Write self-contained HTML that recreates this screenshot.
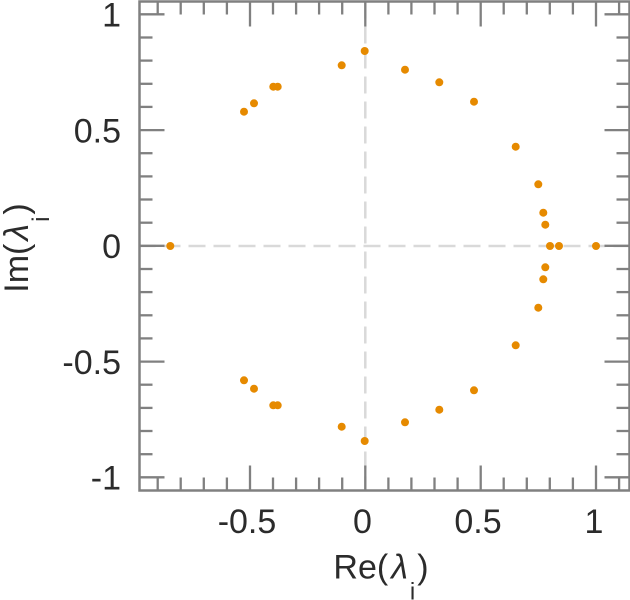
<!DOCTYPE html>
<html><head><meta charset="utf-8"><style>
html,body{margin:0;padding:0;background:#fff;}
svg{display:block;}
text{font-family:"Liberation Sans",Arial,sans-serif;fill:#2b2b2b;}
</style></head><body>
<svg width="630" height="600" viewBox="0 0 630 600" xmlns="http://www.w3.org/2000/svg">
<rect x="0" y="0" width="630" height="600" fill="#fff"/>
<!-- zero dashed lines -->
<line x1="365.3" y1="1.5" x2="365.3" y2="490.5" stroke="#d9d9d9" stroke-width="2.5" stroke-dasharray="17 8"/>
<line x1="139.5" y1="246" x2="629.5" y2="246" stroke="#d9d9d9" stroke-width="2.5" stroke-dasharray="17 8" stroke-dashoffset="1"/>
<!-- frame -->
<rect x="139.5" y="1.5" width="490" height="489" fill="none" stroke="#808080" stroke-width="2.5"/>
<g stroke="#808080" stroke-width="2.3">
<!-- x ticks bottom & top -->
<line x1="157.7" y1="490.5" x2="157.7" y2="477.5"/><line x1="157.7" y1="1.5" x2="157.7" y2="14.5"/>
<line x1="180.7" y1="490.5" x2="180.7" y2="477.5"/><line x1="180.7" y1="1.5" x2="180.7" y2="14.5"/>
<line x1="203.8" y1="490.5" x2="203.8" y2="477.5"/><line x1="203.8" y1="1.5" x2="203.8" y2="14.5"/>
<line x1="226.9" y1="490.5" x2="226.9" y2="477.5"/><line x1="226.9" y1="1.5" x2="226.9" y2="14.5"/>
<line x1="250" y1="490.5" x2="250" y2="465.5"/><line x1="250" y1="1.5" x2="250" y2="26.5"/>
<line x1="273.0" y1="490.5" x2="273.0" y2="477.5"/><line x1="273.0" y1="1.5" x2="273.0" y2="14.5"/>
<line x1="296.1" y1="490.5" x2="296.1" y2="477.5"/><line x1="296.1" y1="1.5" x2="296.1" y2="14.5"/>
<line x1="319.1" y1="490.5" x2="319.1" y2="477.5"/><line x1="319.1" y1="1.5" x2="319.1" y2="14.5"/>
<line x1="342.2" y1="490.5" x2="342.2" y2="477.5"/><line x1="342.2" y1="1.5" x2="342.2" y2="14.5"/>
<line x1="365.3" y1="490.5" x2="365.3" y2="465.5"/><line x1="365.3" y1="1.5" x2="365.3" y2="26.5"/>
<line x1="388.4" y1="490.5" x2="388.4" y2="477.5"/><line x1="388.4" y1="1.5" x2="388.4" y2="14.5"/>
<line x1="411.4" y1="490.5" x2="411.4" y2="477.5"/><line x1="411.4" y1="1.5" x2="411.4" y2="14.5"/>
<line x1="434.5" y1="490.5" x2="434.5" y2="477.5"/><line x1="434.5" y1="1.5" x2="434.5" y2="14.5"/>
<line x1="457.6" y1="490.5" x2="457.6" y2="477.5"/><line x1="457.6" y1="1.5" x2="457.6" y2="14.5"/>
<line x1="480.7" y1="490.5" x2="480.7" y2="465.5"/><line x1="480.7" y1="1.5" x2="480.7" y2="26.5"/>
<line x1="503.7" y1="490.5" x2="503.7" y2="477.5"/><line x1="503.7" y1="1.5" x2="503.7" y2="14.5"/>
<line x1="526.8" y1="490.5" x2="526.8" y2="477.5"/><line x1="526.8" y1="1.5" x2="526.8" y2="14.5"/>
<line x1="549.8" y1="490.5" x2="549.8" y2="477.5"/><line x1="549.8" y1="1.5" x2="549.8" y2="14.5"/>
<line x1="572.9" y1="490.5" x2="572.9" y2="477.5"/><line x1="572.9" y1="1.5" x2="572.9" y2="14.5"/>
<line x1="596" y1="490.5" x2="596" y2="465.5"/><line x1="596" y1="1.5" x2="596" y2="26.5"/>
<line x1="619.1" y1="490.5" x2="619.1" y2="477.5"/><line x1="619.1" y1="1.5" x2="619.1" y2="14.5"/>
<!-- y ticks left & right -->
<line x1="139.5" y1="14.3" x2="164.5" y2="14.3"/><line x1="629.5" y1="14.3" x2="604.5" y2="14.3"/>
<line x1="139.5" y1="37.5" x2="152.5" y2="37.5"/><line x1="629.5" y1="37.5" x2="616.5" y2="37.5"/>
<line x1="139.5" y1="60.6" x2="152.5" y2="60.6"/><line x1="629.5" y1="60.6" x2="616.5" y2="60.6"/>
<line x1="139.5" y1="83.8" x2="152.5" y2="83.8"/><line x1="629.5" y1="83.8" x2="616.5" y2="83.8"/>
<line x1="139.5" y1="106.9" x2="152.5" y2="106.9"/><line x1="629.5" y1="106.9" x2="616.5" y2="106.9"/>
<line x1="139.5" y1="130.1" x2="164.5" y2="130.1"/><line x1="629.5" y1="130.1" x2="604.5" y2="130.1"/>
<line x1="139.5" y1="153.2" x2="152.5" y2="153.2"/><line x1="629.5" y1="153.2" x2="616.5" y2="153.2"/>
<line x1="139.5" y1="176.4" x2="152.5" y2="176.4"/><line x1="629.5" y1="176.4" x2="616.5" y2="176.4"/>
<line x1="139.5" y1="199.5" x2="152.5" y2="199.5"/><line x1="629.5" y1="199.5" x2="616.5" y2="199.5"/>
<line x1="139.5" y1="222.7" x2="152.5" y2="222.7"/><line x1="629.5" y1="222.7" x2="616.5" y2="222.7"/>
<line x1="139.5" y1="245.8" x2="164.5" y2="245.8"/><line x1="629.5" y1="245.8" x2="604.5" y2="245.8"/>
<line x1="139.5" y1="269.0" x2="152.5" y2="269.0"/><line x1="629.5" y1="269.0" x2="616.5" y2="269.0"/>
<line x1="139.5" y1="292.1" x2="152.5" y2="292.1"/><line x1="629.5" y1="292.1" x2="616.5" y2="292.1"/>
<line x1="139.5" y1="315.3" x2="152.5" y2="315.3"/><line x1="629.5" y1="315.3" x2="616.5" y2="315.3"/>
<line x1="139.5" y1="338.4" x2="152.5" y2="338.4"/><line x1="629.5" y1="338.4" x2="616.5" y2="338.4"/>
<line x1="139.5" y1="361.6" x2="164.5" y2="361.6"/><line x1="629.5" y1="361.6" x2="604.5" y2="361.6"/>
<line x1="139.5" y1="384.7" x2="152.5" y2="384.7"/><line x1="629.5" y1="384.7" x2="616.5" y2="384.7"/>
<line x1="139.5" y1="407.9" x2="152.5" y2="407.9"/><line x1="629.5" y1="407.9" x2="616.5" y2="407.9"/>
<line x1="139.5" y1="431.0" x2="152.5" y2="431.0"/><line x1="629.5" y1="431.0" x2="616.5" y2="431.0"/>
<line x1="139.5" y1="454.2" x2="152.5" y2="454.2"/><line x1="629.5" y1="454.2" x2="616.5" y2="454.2"/>
<line x1="139.5" y1="477.3" x2="164.5" y2="477.3"/><line x1="629.5" y1="477.3" x2="604.5" y2="477.3"/>
</g>
<!-- points -->
<g fill="#e68a00">
<circle cx="170.3" cy="246" r="4"/>
<circle cx="244" cy="111.7" r="4"/><circle cx="254" cy="103.3" r="4"/>
<circle cx="273.3" cy="86.7" r="4"/><circle cx="277.7" cy="86.7" r="4"/>
<circle cx="341.7" cy="65.3" r="4"/><circle cx="364.7" cy="51" r="4"/>
<circle cx="405" cy="69.7" r="4"/><circle cx="439.3" cy="82.3" r="4"/>
<circle cx="474" cy="101.7" r="4"/><circle cx="515.7" cy="146.7" r="4"/>
<circle cx="538.3" cy="184.3" r="4"/><circle cx="543.3" cy="212.7" r="4"/>
<circle cx="545.3" cy="224.7" r="4"/>
<circle cx="550" cy="246" r="4"/><circle cx="559" cy="246" r="4"/><circle cx="596" cy="246" r="4"/>
<circle cx="244" cy="380.3" r="4"/><circle cx="254" cy="388.7" r="4"/>
<circle cx="273.3" cy="405.3" r="4"/><circle cx="277.7" cy="405.3" r="4"/>
<circle cx="341.7" cy="426.7" r="4"/><circle cx="364.7" cy="441" r="4"/>
<circle cx="405" cy="422.3" r="4"/><circle cx="439.3" cy="409.7" r="4"/>
<circle cx="474" cy="390.3" r="4"/><circle cx="515.7" cy="345.3" r="4"/>
<circle cx="538.3" cy="307.7" r="4"/><circle cx="543.3" cy="279.3" r="4"/>
<circle cx="545.3" cy="267.3" r="4"/>
</g>
<!-- y tick labels -->
<g font-size="34" text-anchor="end">
<text x="121" y="26.5">1</text>
<text x="121" y="142.3">0.5</text>
<text x="121" y="258">0</text>
<text x="121" y="373.8">-0.5</text>
<text x="121" y="489.5">-1</text>
</g>
<!-- x tick labels -->
<g font-size="34" text-anchor="middle">
<text x="247" y="533">-0.5</text>
<text x="362.5" y="533">0</text>
<text x="478" y="533">0.5</text>
<text x="594" y="533">1</text>
</g>
<!-- axis titles -->
<text x="381" y="578.5" font-size="34" text-anchor="middle">Re(<tspan font-style="italic" dx="3">λ</tspan><tspan font-size="24" dy="21" dx="2">i</tspan><tspan dy="-21" dx="2">)</tspan></text>
<text transform="translate(28,0) rotate(-90)" x="-248" y="0" font-size="34" text-anchor="middle">Im(<tspan font-style="italic" dx="3">λ</tspan><tspan font-size="24" dy="21" dx="2">i</tspan><tspan dy="-21" dx="2">)</tspan></text>
</svg>
</body></html>
